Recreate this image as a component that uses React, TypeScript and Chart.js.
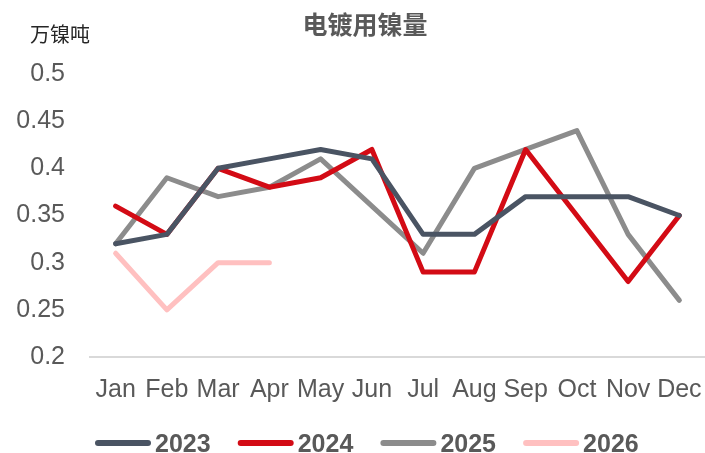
import React, { useEffect, useRef } from "react";
import { Chart, registerables } from "chart.js";

Chart.register(...registerables);

const title = "电镀用镍量";
const unitLabel = "万镍吨";
const months = ["Jan", "Feb", "Mar", "Apr", "May", "Jun", "Jul", "Aug", "Sep", "Oct", "Nov", "Dec"];
const seriesNames = ["2023", "2024", "2025", "2026"];
const s2023 = [0.32, 0.33, 0.40, 0.41, 0.42, 0.41, 0.33, 0.33, 0.37, 0.37, 0.37, 0.35];
const s2024 = [0.36, 0.33, 0.40, 0.38, 0.39, 0.42, 0.29, 0.29, 0.42, 0.35, 0.28, 0.35];
const s2025 = [0.32, 0.39, 0.37, 0.38, 0.41, 0.36, 0.31, 0.40, 0.42, 0.44, 0.33, 0.26];
const s2026 = [0.31, 0.25, 0.30, 0.30, null, null, null, null, null, null, null, null];
const colors = ["#4a5463", "#d30b15", "#8c8c8c", "#ffc0c0"];
const yMin = 0.2;
const yMax = 0.5;
const yStep = 0.05;

const overlayPlugin = {
  id: "overlay",
  afterDraw(chart: any) {
    const ctx = chart.ctx;
    ctx.save();
    // title
    ctx.fillStyle = "#595959";
    ctx.font = "bold 25px 'Noto Sans CJK SC', sans-serif";
    ctx.textAlign = "center";
    ctx.textBaseline = "middle";
    ctx.fillText(title, 365, 24);
    // unit
    ctx.fillStyle = "#262626";
    ctx.font = "20px 'Noto Sans CJK SC', sans-serif";
    ctx.textAlign = "left";
    ctx.fillText(unitLabel, 30, 34);
    // legend
    const pitch = 142.7;
    const y = 443;
    seriesNames.forEach((name, i) => {
      const x0 = 95 + i * pitch;
      ctx.strokeStyle = colors[i];
      ctx.lineWidth = 6;
      ctx.lineCap = "round";
      ctx.beginPath();
      ctx.moveTo(x0 + 3, y);
      ctx.lineTo(x0 + 53, y);
      ctx.stroke();
      ctx.fillStyle = "#595959";
      ctx.font = "bold 25px 'Liberation Sans', Arial, sans-serif";
      ctx.textAlign = "left";
      ctx.textBaseline = "alphabetic";
      ctx.fillText(name, x0 + 60, 452);
    });
    ctx.restore();
  },
};

export default function App() {
  const ref = useRef<HTMLCanvasElement | null>(null);
  useEffect(() => {
    if (!ref.current) return;
    const data = [s2023, s2024, s2025, s2026];
    const chart = new Chart(ref.current, {
      type: "line",
      data: {
        labels: months,
        datasets: seriesNames.map((name, i) => ({
          label: name,
          data: data[i],
          borderColor: colors[i],
          backgroundColor: colors[i],
          borderWidth: 5,
          pointRadius: 0,
          pointHoverRadius: 0,
          tension: 0,
          borderJoinStyle: "round" as const,
          borderCapStyle: "round" as const,
          spanGaps: false,
        })),
      },
      options: {
        animation: false,
        responsive: false,
        events: [],
        layout: { padding: { top: 74, right: 0, left: 0, bottom: 0 } },
        plugins: {
          legend: { display: false },
          title: { display: false },
          tooltip: { enabled: false },
        },
        scales: {
          x: {
            offset: true,
            grid: { display: false, drawTicks: false },
            border: { display: true, color: "#d9d9d9", width: 2 },
            ticks: {
              autoSkip: false,
              maxRotation: 0,
              minRotation: 0,
              padding: 18,
              color: "#595959",
              font: { family: "'Liberation Sans', Arial, sans-serif", size: 25 },
            },
            afterFit: (scale: any) => {
              scale.height = 96;
              scale.paddingLeft = 0;
              scale.paddingRight = 0;
            },
          },
          y: {
            min: yMin,
            max: yMax,
            grid: { display: false, drawTicks: false },
            border: { display: false },
            ticks: {
              stepSize: yStep,
              padding: 25,
              color: "#595959",
              font: { family: "'Liberation Sans', Arial, sans-serif", size: 25 },
              callback: (v: any) => String(Math.round(Number(v) * 100) / 100),
            },
            afterFit: (scale: any) => {
              scale.width = 90;
              scale.paddingTop = 0;
              scale.paddingBottom = 0;
            },
          },
        },
      },
      plugins: [overlayPlugin],
    });
    return () => chart.destroy();
  }, []);
  return (
    <div style={{ position: "absolute", left: 0, top: 0, width: 705, height: 453, background: "#fff" }}>
      <canvas ref={ref} width={705} height={453} style={{ width: 705, height: 453, display: "block" }} />
    </div>
  );
}
